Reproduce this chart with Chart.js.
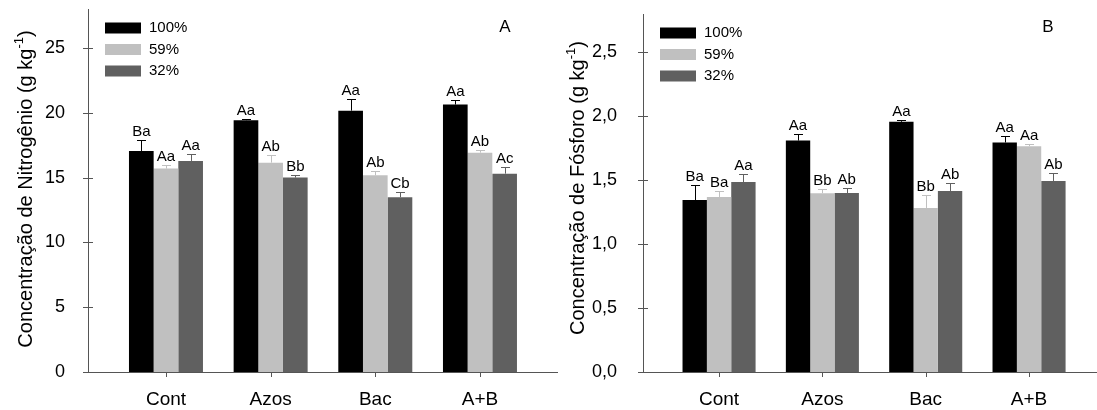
<!DOCTYPE html>
<html><head><meta charset="utf-8">
<script src="https://cdn.jsdelivr.net/npm/chart.js@4"></script>
<style>
html,body{margin:0;padding:0;background:#fff;overflow:hidden;width:1097px;height:410px;}
#wrap{position:relative;width:1097px;height:410px;overflow:hidden;background:#fff;}
canvas{position:absolute;top:0;}
#cA{left:0}
#cB{left:560px}
</style></head><body>
<div id="wrap"><canvas id="cA" width="560" height="410"></canvas><canvas id="cB" width="560" height="410"></canvas></div>
<script>
const categories = ['Cont', 'Azos', 'Bac', 'A+B'];
const seriesNames = ['100%', '59%', '32%'];
const seriesColors = ['#000000', '#c0c0c0', '#606060'];

const nitro100 = [17.05, 19.42, 20.16, 20.63];
const nitro59  = [15.69, 16.15, 15.17, 16.92];
const nitro32  = [16.28, 15.00, 13.48, 15.30];
const nitroErr100 = [0.82, 0.13, 0.93, 0.33];
const nitroErr59  = [0.30, 0.60, 0.33, 0.20];
const nitroErr32  = [0.50, 0.23, 0.43, 0.54];
const nitroLetters100 = ['Ba', 'Aa', 'Aa', 'Aa'];
const nitroLetters59  = ['Aa', 'Ab', 'Ab', 'Ab'];
const nitroLetters32  = ['Aa', 'Bb', 'Cb', 'Ac'];
const nitroTicks = [0, 5, 10, 15, 20, 25];

const phos100 = [1.345, 1.810, 1.957, 1.795];
const phos59  = [1.369, 1.398, 1.283, 1.766];
const phos32  = [1.486, 1.400, 1.416, 1.494];
const phosErr100 = [0.12, 0.05, 0.015, 0.05];
const phosErr59  = [0.05, 0.03, 0.10, 0.016];
const phosErr32  = [0.06, 0.04, 0.065, 0.06];
const phosLetters100 = ['Ba', 'Aa', 'Aa', 'Aa'];
const phosLetters59  = ['Ba', 'Bb', 'Bb', 'Aa'];
const phosLetters32  = ['Aa', 'Ab', 'Ab', 'Ab'];
const phosTicks = [0, 0.5, 1.0, 1.5, 2.0, 2.5];

const FONT = 'Arial, "Liberation Sans", Helvetica, sans-serif';
const AXIS = '#555555';

const decor = {
  id: 'decor',
  afterDatasetsDraw(chart, args, o) {
    const ctx = chart.ctx, ys = chart.scales.y;
    ctx.save();
    chart.data.datasets.forEach((ds, di) => {
      const meta = chart.getDatasetMeta(di);
      meta.data.forEach((bar, i) => {
        const v = ds.data[i].y, e = ds.err[i];
        const top = Math.round(ys.getPixelForValue(v + e)) + 0.5;
        const cx = Math.round(bar.x) + 0.5;
        ctx.strokeStyle = ds.backgroundColor; ctx.lineWidth = 1;
        ctx.beginPath();
        ctx.moveTo(cx, bar.y); ctx.lineTo(cx, top);
        ctx.moveTo(cx - 4.5, top); ctx.lineTo(cx + 4.5, top);
        ctx.stroke();
        ctx.fillStyle = '#000'; ctx.font = '15px ' + FONT;
        ctx.textAlign = 'center'; ctx.textBaseline = 'alphabetic';
        ctx.fillText(ds.letters[i], bar.x, top - 5);
      });
    });
    ctx.restore();
  },
  afterDraw(chart, args, o) {
    const ctx = chart.ctx, ys = chart.scales.y, xs = chart.scales.x, ca = chart.chartArea;
    ctx.save();
    ctx.strokeStyle = AXIS; ctx.lineWidth = 1;
    ctx.beginPath();
    ys.ticks.forEach(t => {
      const p = Math.round(ys.getPixelForValue(t.value)) + 0.5;
      ctx.moveTo(ca.left - 5, p); ctx.lineTo(ca.left + 5, p);
    });
    xs.ticks.forEach(t => {
      const p = Math.round(xs.getPixelForValue(t.value)) + 0.5;
      ctx.moveTo(p, ca.bottom); ctx.lineTo(p, ca.bottom + 5);
    });
    ctx.stroke();
    // legend
    ctx.font = '15px ' + FONT; ctx.textAlign = 'left'; ctx.textBaseline = 'middle';
    chart.data.datasets.forEach((ds, di) => {
      const yy = o.legY + di * 21.5;
      ctx.fillStyle = ds.backgroundColor;
      ctx.fillRect(o.legX, yy - 5.5, 36, 11);
      ctx.fillStyle = '#000';
      ctx.fillText(ds.label, o.legX + 44, yy);
    });
    // panel letter
    ctx.font = '17px ' + FONT; ctx.textAlign = 'center'; ctx.textBaseline = 'alphabetic';
    ctx.fillText(o.panel, o.panelX, 32);
    // y title with superscript
    ctx.translate(o.titleX, o.titleY);
    ctx.rotate(-Math.PI / 2);
    ctx.textAlign = 'left';
    const f1 = '20px ' + FONT, f2 = '13px ' + FONT;
    ctx.font = f1; const w1 = ctx.measureText(o.title).width; const w3 = ctx.measureText(')').width;
    ctx.font = f2; const w2 = ctx.measureText('-1').width;
    let sx = -(w1 + w2 + w3) / 2;
    ctx.font = f1; ctx.fillText(o.title, sx, 0); sx += w1;
    ctx.font = f2; ctx.fillText('-1', sx, -9); sx += w2;
    ctx.font = f1; ctx.fillText(')', sx, 0);
    ctx.restore();
  }
};

function makeDatasets(vals, errs, letters) {
  return vals.map((arr, k) => ({
    label: seriesNames[k],
    data: arr.map((v, i) => ({ x: i + 1, y: v })),
    err: errs[k],
    letters: letters[k],
    backgroundColor: seriesColors[k],
    borderWidth: 0,
    barPercentage: 1.0,
    categoryPercentage: 0.707
  }));
}

function makeChart(id, datasets, cfg) {
  return new Chart(document.getElementById(id), {
    type: 'bar',
    data: { datasets },
    options: {
      responsive: false, animation: false, devicePixelRatio: 1,
      layout: { padding: cfg.padding },
      plugins: { legend: { display: false }, tooltip: { enabled: false }, decor: cfg.decor },
      scales: {
        x: {
          type: 'linear', min: cfg.xmin, max: cfg.xmax, offset: false,
          grid: { display: false },
          border: { display: true, color: AXIS, width: 1 },
          ticks: { autoSkip: false, maxRotation: 0, color: '#000', padding: 8,
                   font: { family: FONT, size: 19 },
                   callback: v => categories[v - 1] ?? '' },
          afterBuildTicks: s => { s.ticks = categories.map((c, i) => ({ value: i + 1 })); },
          afterFit: s => { s.height = 38; s.paddingLeft = 0; s.paddingRight = 0; }
        },
        y: {
          min: 0, max: cfg.ymax,
          grid: { display: false },
          border: { display: true, color: AXIS, width: 1 },
          ticks: { includeBounds: false, color: '#000', padding: cfg.tickPad,
                   font: { family: FONT, size: 18 },
                   callback: cfg.fmt },
          afterBuildTicks: s => { s.ticks = cfg.ticks.map(v => ({ value: v })); },
          afterFit: s => { s.width = cfg.yw; s.paddingTop = 0; s.paddingBottom = 0; }
        }
      }
    },
    plugins: [decor]
  });
}

makeChart('cA',
  makeDatasets([nitro100, nitro59, nitro32], [nitroErr100, nitroErr59, nitroErr32], [nitroLetters100, nitroLetters59, nitroLetters32]),
  { padding: { left: 0, right: 3, top: 9, bottom: 0 }, xmin: 0.255, xmax: 4.736, ymax: 28, yw: 88, tickPad: 15,
    ticks: nitroTicks, fmt: v => String(v),
    decor: { legX: 105, legY: 28, panel: 'A', panelX: 505, title: 'Concentração de Nitrogênio (g kg', titleX: 32, titleY: 189 } });

makeChart('cB',
  makeDatasets([phos100, phos59, phos32], [phosErr100, phosErr59, phosErr32], [phosLetters100, phosLetters59, phosLetters32]),
  { padding: { left: 0, right: 15, top: 14, bottom: 0 }, xmin: 0.264, xmax: 4.735, ymax: 2.8, yw: 83, tickPad: 18,
    ticks: phosTicks, fmt: v => v.toFixed(1).replace('.', ','),
    decor: { legX: 100, legY: 33, panel: 'B', panelX: 488, title: 'Concentração de Fósforo (g kg', titleX: 24, titleY: 188 } });
</script>
</body></html>
